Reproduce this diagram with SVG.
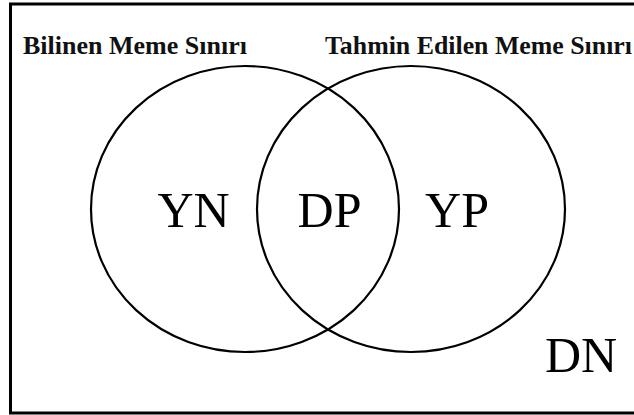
<svg xmlns="http://www.w3.org/2000/svg" width="634" height="415" viewBox="0 0 634 415">
<style>
.set{fill:none;stroke:#000;stroke-width:2.2}
.title{font-family:"Liberation Serif","Times New Roman",serif;font-weight:bold;font-size:24.5px;fill:#111}
.big{font-family:"Liberation Serif","Times New Roman",serif;font-size:50px;fill:#000;text-anchor:middle}
</style>
<rect x="10.5" y="4" width="640" height="409" fill="#fff" stroke="#000" stroke-width="3"/>
<g id="known">
<ellipse class="set" cx="245" cy="209" rx="154" ry="143"/>
<text class="title" x="23" y="54" textLength="224" lengthAdjust="spacingAndGlyphs">Bilinen Meme Sınırı</text>
</g>
<g id="predicted">
<ellipse class="set" cx="411" cy="209" rx="154" ry="143"/>
<text class="title" x="325" y="54" textLength="307" lengthAdjust="spacingAndGlyphs">Tahmin Edilen Meme Sınırı</text>
</g>
<g id="labels">
<text class="big" x="193.5" y="227">YN</text>
<text class="big" x="329.5" y="227">DP</text>
<text class="big" x="457" y="227">YP</text>
<text class="big" x="581" y="372">DN</text>
</g>
</svg>
